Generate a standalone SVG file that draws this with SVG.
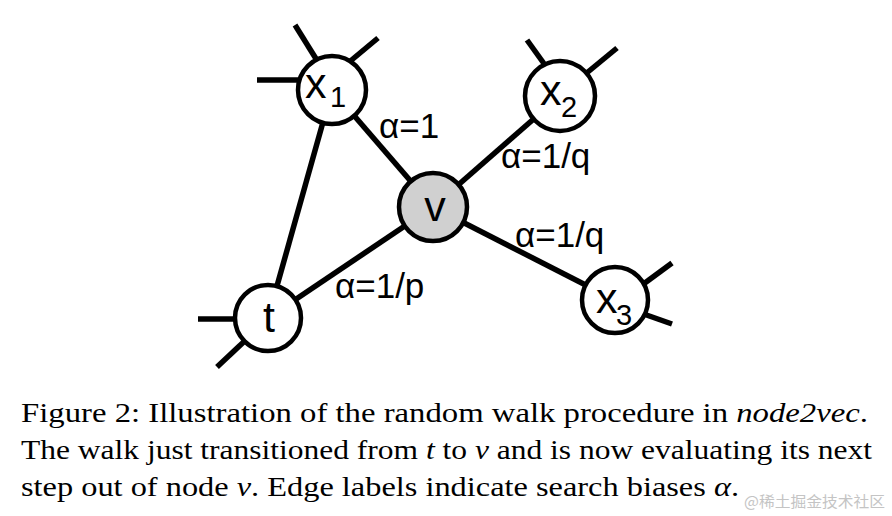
<svg xmlns="http://www.w3.org/2000/svg" width="892" height="516" viewBox="0 0 892 516">
<style>
.edge{stroke:#000;stroke-width:5.5;stroke-linecap:butt;fill:none}
.node{fill:#fff;stroke:#000;stroke-width:4.5}
.cur{fill:#d0d0d0;stroke:#000;stroke-width:4.5}
.lbl{font-family:"Liberation Sans",Arial,sans-serif;font-size:43px;fill:#000}
.sub{font-family:"Liberation Sans",Arial,sans-serif;font-size:29px;fill:#000}
.elbl{font-family:"Liberation Sans",Arial,sans-serif;font-size:35px;fill:#000}
.cap{font-family:"Liberation Serif","Times New Roman",serif;font-size:28px;fill:#000}
.wm{font-family:"Noto Sans CJK SC","Liberation Sans",sans-serif;font-size:15px;fill:#c4c4c4}
</style>
<rect width="892" height="516" fill="#fff"/>
<g id="connectors">
<line class="edge" x1="332" y1="90" x2="433" y2="207"/>
<line class="edge" x1="560" y1="96" x2="433" y2="207"/>
<line class="edge" x1="433" y1="207" x2="615" y2="300"/>
<line class="edge" x1="433" y1="207" x2="268" y2="318"/>
<line class="edge" x1="268" y1="318" x2="332" y2="90"/>
<line class="edge" x1="257" y1="80" x2="310" y2="80"/>
<line class="edge" x1="295" y1="25" x2="318" y2="62"/>
<line class="edge" x1="378" y1="38" x2="348" y2="63"/>
<line class="edge" x1="527" y1="40" x2="550" y2="72"/>
<line class="edge" x1="617" y1="48" x2="583" y2="76"/>
<line class="edge" x1="198" y1="319" x2="245" y2="319"/>
<line class="edge" x1="217" y1="367" x2="250" y2="336"/>
<line class="edge" x1="672" y1="263" x2="638" y2="288"/>
<line class="edge" x1="672" y1="324" x2="638" y2="312"/>
</g>
<g id="node-x1">
<circle class="node" cx="332" cy="90" r="34"/>
<text class="lbl" x="305" y="98">x</text><text class="sub" x="330" y="107">1</text>
</g>
<g id="node-x2">
<circle class="node" cx="560" cy="96" r="35"/>
<text class="lbl" x="540" y="105">x</text><text class="sub" x="561" y="117">2</text>
</g>
<g id="node-v">
<circle class="cur" cx="433" cy="207" r="34"/>
<text class="lbl" x="435" y="221" text-anchor="middle">v</text>
</g>
<g id="node-t">
<circle class="node" cx="268" cy="318" r="33"/>
<text class="lbl" x="269" y="332" text-anchor="middle">t</text>
</g>
<g id="node-x3">
<circle class="node" cx="615" cy="300" r="33"/>
<text class="lbl" x="596" y="313">x</text><text class="sub" x="616" y="325">3</text>
</g>
<g id="edge-labels">
<text class="elbl" x="379" y="138">α=1</text>
<text class="elbl" x="501" y="168">α=1/q</text>
<text class="elbl" x="515" y="247">α=1/q</text>
<text class="elbl" x="335" y="298">α=1/p</text>
</g>
<g id="caption">
<text class="cap" x="21" y="422" textLength="847" lengthAdjust="spacingAndGlyphs">Figure 2:  Illustration of the random walk procedure in <tspan font-style="italic">node2vec</tspan>.</text>
<text class="cap" x="21" y="459" textLength="851" lengthAdjust="spacingAndGlyphs">The walk just transitioned from <tspan font-style="italic">t</tspan> to <tspan font-style="italic">v</tspan> and is now evaluating its next</text>
<text class="cap" x="21" y="496" textLength="718" lengthAdjust="spacingAndGlyphs">step out of node <tspan font-style="italic">v</tspan>. Edge labels indicate search biases <tspan font-style="italic">α</tspan>.</text>
<text class="wm" x="744" y="507" textLength="141" lengthAdjust="spacingAndGlyphs">@稀土掘金技术社区</text>
</g>
</svg>
